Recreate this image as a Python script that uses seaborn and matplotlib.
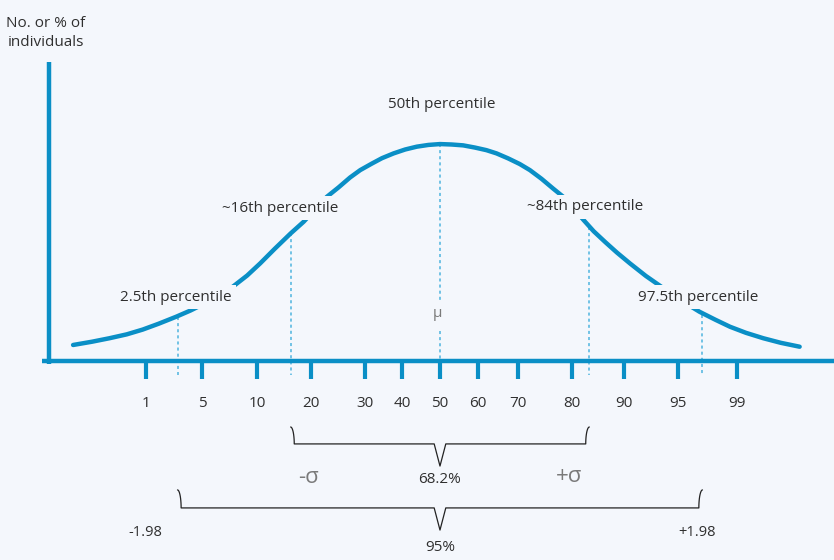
import matplotlib
matplotlib.use("Agg")
import matplotlib.pyplot as plt
import numpy as np
import seaborn as sns

# curve: x in sigma units, height relative to the peak
curve_z = [-2.53, -2.40, -2.28, -2.16, -2.05, -1.94, -1.82, -1.72, -1.62, -1.52,
           -1.43, -1.33, -1.24, -1.14, -1.03, -0.94, -0.86, -0.78, -0.70, -0.62,
           -0.55, -0.47, -0.40, -0.32, -0.24, -0.16, -0.08, 0.0, 0.08, 0.16,
           0.24, 0.32, 0.39, 0.47, 0.55, 0.62, 0.70, 0.78, 0.85, 0.92, 0.99,
           1.06, 1.14, 1.22, 1.31, 1.42, 1.54, 1.66, 1.79, 1.90, 2.00, 2.11,
           2.23, 2.35, 2.48]
curve_h = [0.074, 0.089, 0.105, 0.123, 0.145, 0.172, 0.204, 0.233, 0.266, 0.303,
           0.342, 0.394, 0.450, 0.517, 0.588, 0.642, 0.700, 0.757, 0.800, 0.846,
           0.880, 0.910, 0.935, 0.957, 0.975, 0.988, 0.996, 1.0, 0.998, 0.994,
           0.984, 0.972, 0.957, 0.934, 0.908, 0.880, 0.840, 0.795, 0.757, 0.705,
           0.650, 0.598, 0.548, 0.500, 0.450, 0.392, 0.336, 0.280, 0.227, 0.190,
           0.158, 0.130, 0.105, 0.084, 0.066]

# percentile ticks on the axis
tick_labels = ["1", "5", "10", "20", "30", "40", "50", "60", "70", "80", "90", "95", "99"]
tick_z = [-2.03, -1.64, -1.26, -0.89, -0.52, -0.26, 0.0, 0.26, 0.54, 0.91, 1.27, 1.64, 2.05]

# marked percentiles (dotted guides)
marker_labels = ["2.5th percentile", "~16th percentile", "50th percentile",
                 "~84th percentile", "97.5th percentile"]
marker_z = [-1.81, -1.03, 0.0, 1.03, 1.81]
marker_h = [0.204, 0.588, 1.0, 0.62, 0.212]

BG = "#f4f7fc"
BLUE = "#0a8fc6"
LIGHT = "#4db4de"
TXT = "#2f2f2f"
GREY = "#7a7a7a"

sns.set_theme(style="white")
plt.rcParams["font.family"] = ["Open Sans", "DejaVu Sans"]

fig = plt.figure(figsize=(8.34, 5.6), dpi=100, facecolor=BG)
ax = fig.add_axes([0, 0, 1, 1])
ax.set_facecolor(BG)
ax.set_xlim(-3.034, 2.717)
ax.set_ylim(-0.917, 1.664)
ax.axis("off")

# axes of the diagram
ax.plot([-2.745, 2.717], [0, 0], color=BLUE, lw=3.2, solid_capstyle="butt", zorder=3)
ax.plot([-2.697, -2.697], [-0.015, 1.378], color=BLUE, lw=3.2, solid_capstyle="butt", zorder=3)
ax.vlines(tick_z, -0.083, 0, color=BLUE, lw=3, zorder=3)
for z, lab in zip(tick_z, tick_labels):
    ax.text(z, -0.194, lab, ha="center", va="center", fontsize=11, color=TXT)

# dotted guide lines
for z, h in zip(marker_z, marker_h):
    if z == 0.0:
        ax.plot([z, z], [h, 0.28], color=LIGHT, lw=1.1, ls=(0, (2, 2)), zorder=1)
        ax.plot([z, z], [0.14, -0.065], color=LIGHT, lw=1.1, ls=(0, (2, 2)), zorder=1)
    else:
        ax.plot([z, z], [h, -0.065], color=LIGHT, lw=1.1, ls=(0, (2, 2)), zorder=1)

sns.lineplot(x=curve_z, y=curve_h, ax=ax, color=BLUE, lw=3.2, zorder=2,
             solid_joinstyle="round")

box = dict(facecolor=BG, edgecolor="none", pad=3)
label_pos = [(-1.82, 0.295), (-1.10, 0.705), (0.01, 1.184), (1.00, 0.710), (1.78, 0.295)]
for (x, y), lab in zip(label_pos, marker_labels):
    ax.text(x, y, lab, ha="center", va="center", fontsize=11, color=TXT,
            bbox=box, zorder=4)

ax.text(-0.02, 0.22, "μ", ha="center", va="center", fontsize=11, color=GREY)
ax.text(-2.72, 1.51, "No. or % of\nindividuals", ha="center", va="center",
        fontsize=11, color=TXT, linespacing=1.35)


def brace(ax, x0, x1, y_top, y_mid, y_tip):
    xc = (x0 + x1) / 2
    # left end curls up, middle has a small V pointing down
    t = np.linspace(0, 1, 12)
    lx = x0 + 0.025 * np.sin(t * np.pi / 2)
    ly = y_top + (y_mid - y_top) * (1 - np.cos(t * np.pi / 2))
    rx = x1 - 0.025 * np.sin(t * np.pi / 2)
    xs = list(lx) + [xc - 0.04, xc, xc + 0.04] + list(rx[::-1])
    ys = list(ly) + [y_mid, y_tip, y_mid] + list(ly[::-1])
    ax.plot(xs, ys, color="#222222", lw=0.9, zorder=3)


brace(ax, marker_z[1], marker_z[3], -0.304, -0.382, -0.484)
brace(ax, marker_z[0], marker_z[4], -0.594, -0.677, -0.779)

ax.text(0.0, -0.548, "68.2%", ha="center", va="center", fontsize=11, color=TXT)
ax.text(0.0, -0.86, "95%", ha="center", va="center", fontsize=11, color=TXT)
ax.text(-0.91, -0.535, "-σ", ha="center", va="center", fontsize=16, color=GREY)
ax.text(0.89, -0.530, "+σ", ha="center", va="center", fontsize=16, color=GREY)
ax.text(-2.03, -0.789, "-1.98", ha="center", va="center", fontsize=10.5, color=TXT)
ax.text(1.77, -0.789, "+1.98", ha="center", va="center", fontsize=10.5, color=TXT)

fig.savefig("out.png", dpi=100, facecolor=BG)
